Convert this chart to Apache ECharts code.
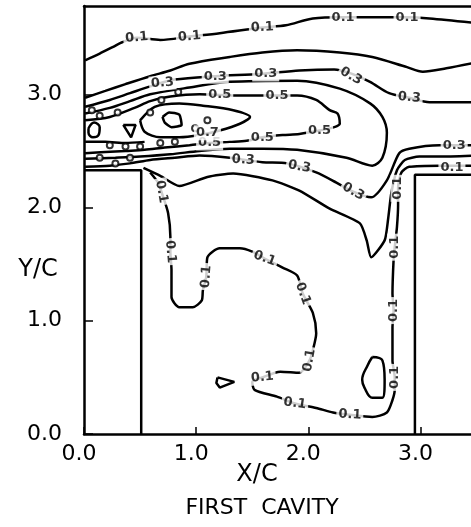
<!DOCTYPE html>
<html>
<head>
<meta charset="utf-8">
<script src="https://cdn.jsdelivr.net/npm/echarts@6.0.0/dist/echarts.min.js"></script>
<style>
  html, body { margin: 0; padding: 0; background: #fff; }
  #main { width: 471px; height: 527px; }
</style>
</head>
<body>
<div id="main"></div>
<script>
// ticks (X/C and Y/C)
const xTicks = [0, 1, 2, 3];
const yTicks = [0, 1, 2, 3];

// cavity walls
const wallLeft = [[0, 2.33], [0.51, 2.33], [0.51, 0]];
const wallRight = [[2.95, 0], [2.95, 2.29], [3.49, 2.29]];

// contour lines, [x/c, y/c]
const cTop01 = [[0.01,3.30],[0.14,3.36],[0.26,3.42],[0.34,3.46],[0.47,3.50],[0.68,3.48],[0.94,3.51],[1.21,3.54],[1.59,3.59],[1.80,3.61],[2.04,3.67],[2.31,3.68],[2.55,3.68],[2.88,3.68],[3.08,3.67],[3.49,3.63]];
const cOuter02 = [[0.01,2.97],[0.19,3.03],[0.37,3.09],[0.59,3.16],[0.77,3.21],[0.94,3.27],[1.30,3.33],[1.59,3.37],[1.90,3.39],[2.28,3.37],[2.57,3.33],[2.88,3.24],[3.02,3.20],[3.23,3.23],[3.49,3.28]];
const cUpper03 = [[0.01,2.89],[0.23,2.95],[0.41,3.01],[0.59,3.07],[0.81,3.13],[1.17,3.16],[1.57,3.18],[1.92,3.21],[2.23,3.22],[2.39,3.18],[2.55,3.11],[2.72,3.01],[2.90,2.97],[3.08,2.93],[3.49,2.93]];
const cLoop04 = [[0.01,2.83],[0.23,2.88],[0.41,2.94],[0.59,3.00],[0.94,3.06],[1.30,3.11],[1.90,3.12],[2.28,3.05],[2.55,2.92],[2.66,2.80],[2.70,2.66],[2.66,2.44],[2.57,2.37],[2.34,2.44],[1.90,2.51],[1.59,2.52],[1.30,2.52],[1.03,2.50],[0.77,2.47],[0.50,2.45],[0.28,2.44],[0.01,2.43]];
const cHook05 = [[0.01,2.77],[0.23,2.80],[0.45,2.88],[0.59,2.94],[0.77,2.98],[1.03,3.00],[1.39,2.99],[1.72,2.99],[1.90,2.99],[2.07,2.95],[2.19,2.86],[2.26,2.83],[2.28,2.74],[2.23,2.71],[2.10,2.68],[1.92,2.65],[1.77,2.64],[1.59,2.62],[1.45,2.59],[1.30,2.58],[1.12,2.57],[0.94,2.55],[0.72,2.53],[0.54,2.51],[0.37,2.50],[0.19,2.49],[0.01,2.48]];
const cCore07 = [[0.50,2.77],[0.63,2.89],[0.85,2.92],[1.06,2.90],[1.33,2.86],[1.48,2.80],[1.39,2.74],[1.21,2.68],[1.03,2.64],[0.85,2.62],[0.68,2.62],[0.54,2.67],[0.50,2.77]];
const cPeak09 = [[0.70,2.80],[0.76,2.84],[0.85,2.82],[0.87,2.73],[0.78,2.71],[0.72,2.75],[0.70,2.80]];
const cWallBand = [[0.01,2.58],[0.19,2.58],[0.37,2.57],[0.54,2.58]];
const cOval = [[0.04,2.70],[0.09,2.75],[0.14,2.71],[0.13,2.64],[0.08,2.62],[0.04,2.66],[0.04,2.70]];
const cWedge = [[0.35,2.73],[0.46,2.73],[0.42,2.62],[0.35,2.73]];
const cLower03 = [[0.01,2.36],[0.23,2.37],[0.41,2.39],[0.59,2.42],[0.81,2.44],[1.03,2.46],[1.30,2.44],[1.59,2.40],[1.81,2.39],[2.07,2.31],[2.25,2.22],[2.40,2.14],[2.56,2.09],[2.70,2.24],[2.81,2.48],[2.90,2.52],[3.17,2.55],[3.49,2.55]];
const cValley02 = [[0.53,2.35],[0.68,2.28],[0.85,2.19],[1.10,2.27],[1.33,2.30],[1.68,2.24],[1.92,2.15],[2.19,1.99],[2.46,1.86],[2.52,1.71],[2.56,1.56],[2.68,1.71],[2.71,1.89],[2.74,2.13],[2.79,2.33],[2.86,2.42],[2.99,2.45],[3.17,2.45],[3.49,2.46]];
const cSpiral01 = [[0.59,2.31],[0.66,2.22],[0.70,2.11],[0.75,1.95],[0.77,1.74],[0.77,1.61],[0.78,1.45],[0.78,1.21],[0.85,1.12],[0.97,1.12],[1.05,1.18],[1.06,1.27],[1.09,1.39],[1.10,1.56],[1.21,1.64],[1.39,1.64],[1.50,1.61],[1.61,1.55],[1.77,1.47],[1.90,1.40],[1.95,1.24],[2.04,1.07],[2.07,0.89],[2.04,0.74],[2.01,0.65],[1.92,0.54],[1.75,0.55],[1.59,0.50],[1.50,0.46],[1.52,0.39],[1.72,0.33],[1.88,0.27],[2.07,0.23],[2.22,0.19],[2.37,0.17],[2.57,0.15],[2.70,0.19],[2.75,0.30],[2.77,0.39],[2.77,0.50],[2.75,0.65],[2.75,0.94],[2.76,1.09],[2.75,1.24],[2.76,1.54],[2.77,1.65],[2.79,1.83],[2.80,2.02],[2.80,2.17],[2.83,2.31],[2.90,2.36],[3.17,2.37],[3.49,2.37]];
const cIsland01 = [[2.57,0.68],[2.66,0.65],[2.68,0.48],[2.66,0.32],[2.57,0.32],[2.50,0.41],[2.48,0.48],[2.53,0.61],[2.57,0.68]];
const cDot01 = [[1.19,0.50],[1.34,0.46],[1.21,0.41],[1.18,0.45],[1.19,0.50]];

// tiny closed contours in the jet near the left wall
const blobs = [[0.07,2.86],[0.14,2.81],[0.30,2.84],[0.59,2.84],[0.69,2.95],[0.84,3.02],[0.23,2.55],[0.37,2.54],[0.50,2.54],[0.68,2.57],[0.81,2.58],[0.14,2.44],[0.28,2.39],[0.41,2.44],[0.99,2.70],[1.10,2.77]];

// contour labels, [x/c, y/c, rotation]
const labels01 = [[0.47,3.50,5],[0.94,3.51,5],[1.59,3.59,3],[2.31,3.68,0],[2.88,3.68,0],[0.69,2.14,-80],[0.77,1.61,-85],[1.09,1.39,85],[1.61,1.55,-20],[1.95,1.24,-70],[2.01,0.65,80],[1.59,0.50,5],[1.88,0.27,-8],[2.37,0.17,-3],[2.77,0.50,90],[2.76,1.09,90],[2.77,1.65,90],[2.80,2.17,90],[3.28,2.35,0]];
const labels03 = [[0.70,3.10,5],[1.17,3.16,0],[1.62,3.18,0],[2.38,3.16,-30],[2.90,2.97,-5],[1.42,2.42,-3],[1.92,2.36,-10],[2.40,2.14,-30],[3.30,2.55,0]];
const labels05 = [[1.21,3.00,0],[1.72,2.99,0],[2.10,2.68,0],[1.59,2.62,0],[1.12,2.57,0]];
const labels07 = [[1.10,2.66,0]];

const FONT = 'DejaVu Sans';

function contour(data, smooth) {
  return {
    type: 'line', data: data, smooth: smooth, symbol: 'none', silent: true, z: 2,
    lineStyle: { color: '#000', width: 2.5 }
  };
}

function labelSet(text, list) {
  return {
    type: 'scatter', symbolSize: 0, silent: true, z: 4,
    data: list.map(p => ({ value: [p[0], p[1]], label: { rotate: p[2] } })),
    label: {
      show: true, position: 'inside', formatter: text,
      fontFamily: FONT, fontWeight: 'bold', fontSize: 13, color: '#000',
      backgroundColor: '#fff', padding: [1, 2]
    }
  };
}

const chart = echarts.init(document.getElementById('main'));
chart.setOption({
  animation: false,
  backgroundColor: '#fff',
  grid: { left: 84, right: 0, top: 6, bottom: 93 },
  xAxis: [{
    type: 'value', min: 0, max: 3.45, interval: 1,
    axisLine: { show: true, lineStyle: { color: '#000', width: 2.5 } },
    axisTick: { show: true, inside: true, length: 7, customValues: xTicks, lineStyle: { color: '#000', width: 1.5 } },
    axisLabel: {
      customValues: xTicks, formatter: v => v.toFixed(1), margin: 9, padding: [0, 10, 0, 0],
      fontFamily: FONT, fontSize: 22, color: '#000'
    },
    splitLine: { show: false }
  }, {
    // top frame only
    type: 'value', position: 'top', min: 0, max: 3.45,
    axisLine: { show: true, lineStyle: { color: '#000', width: 2.5 } },
    axisTick: { show: false }, axisLabel: { show: false }, splitLine: { show: false }
  }],
  yAxis: {
    type: 'value', min: 0, max: 3.78, interval: 1,
    axisLine: { show: true, lineStyle: { color: '#000', width: 2.5 } },
    axisTick: { show: true, inside: true, length: 9, customValues: yTicks, lineStyle: { color: '#000', width: 1.5 } },
    axisLabel: {
      customValues: yTicks, formatter: v => v.toFixed(1), margin: 22,
      fontFamily: FONT, fontSize: 22, color: '#000'
    },
    splitLine: { show: false }
  },
  graphic: [
    { type: 'text', style: { x: 38, y: 270, text: 'Y/C', font: '24px "DejaVu Sans"', fill: '#000', align: 'center', verticalAlign: 'middle' } },
    { type: 'text', style: { x: 257, y: 475, text: 'X/C', font: '24px "DejaVu Sans"', fill: '#000', align: 'center', verticalAlign: 'middle' } },
    { type: 'text', style: { x: 262, y: 508, text: 'FIRST  CAVITY', font: '22px "DejaVu Sans"', fill: '#000', align: 'center', verticalAlign: 'middle' } }
  ],
  series: [
    contour(cTop01, 0.3),
    contour(cOuter02, 0.3),
    contour(cUpper03, 0.3),
    contour(cLoop04, 0.3),
    contour(cHook05, 0.3),
    contour(cCore07, 0.3),
    contour(cPeak09, 0.2),
    contour(cWallBand, 0.2),
    contour(cOval, 0.4),
    contour(cWedge, 0),
    contour(cLower03, 0.25),
    contour(cValley02, 0.2),
    contour(cSpiral01, 0.25),
    contour(cIsland01, 0.4),
    contour(cDot01, 0),
    {
      type: 'scatter', data: blobs, symbol: 'circle', symbolSize: 6, silent: true, z: 3,
      itemStyle: { color: '#fff', borderColor: '#000', borderWidth: 2 }
    },
    labelSet('0.1', labels01),
    labelSet('0.3', labels03),
    labelSet('0.5', labels05),
    labelSet('0.7', labels07),
    { type: 'line', data: wallLeft, symbol: 'none', silent: true, z: 5, lineStyle: { color: '#000', width: 2.5 } },
    { type: 'line', data: wallRight, symbol: 'none', silent: true, z: 5, lineStyle: { color: '#000', width: 2.5 } }
  ]
});
</script>
</body>
</html>
